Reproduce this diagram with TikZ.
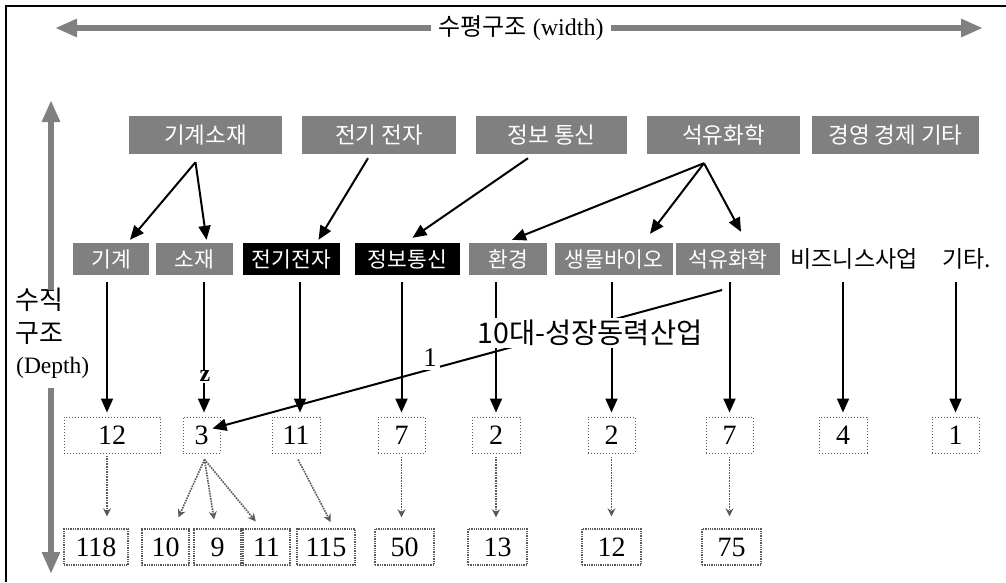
\documentclass[tikz,border=0pt]{standalone}
\usepackage{fontspec}
\setmainfont{Liberation Serif}
\newfontfamily\krfont{Noto Sans CJK KR}
\usetikzlibrary{arrows.meta}
\definecolor{hatch}{gray}{0.5}
\definecolor{dotgray}{gray}{0.35}
\tikzset{
 topbox/.style={fill=hatch, text=white, minimum height=38pt, inner sep=0pt, font=\krfont\fontsize{22.5}{22.5}\selectfont},
 midbox/.style={fill=hatch, text=white, minimum height=32pt, inner sep=0pt, font=\krfont\fontsize{21.5}{21.5}\selectfont},
 blackbox/.style={midbox, fill=black},
 plainlbl/.style={minimum height=32pt, inner sep=0pt, font=\krfont\fontsize{23}{23}\selectfont},
 numbox/.style={draw=dotgray, dotted, line width=1pt, minimum height=36pt, inner sep=0pt, font=\fontsize{28}{28}\selectfont},
 leafbox/.style={draw=dotgray, densely dotted, line width=1.3pt, minimum height=36pt, inner sep=0pt, font=\fontsize{28}{28}\selectfont},
 blk/.style={line width=2pt, -{Triangle[length=14pt,width=12pt]}},
 garrow/.style={line width=6pt, draw=hatch, -{Triangle[length=22pt,width=17pt]}},
 darr/.style={draw=dotgray, densely dotted, line width=1.6pt, -{Stealth[length=8pt,width=8pt,open]}},
}
\begin{document}
\begin{tikzpicture}[x=1pt,y=-1pt]
\useasboundingbox (0,0) rectangle (1006,582);
\draw[line width=1.5pt] (6,582) -- (6,6) -- (1006,6);

% horizontal axis
\node[inner sep=7pt, font=\fontsize{24}{24}\selectfont] (ht) at (521,28) {{\krfont 수평구조}~(width)};
\coordinate (hl) at (55,28);
\coordinate (hr) at (983,28);
\draw[garrow] (ht) -- (hl);
\draw[garrow] (ht) -- (hr);

% vertical axis
\node[anchor=north west, inner sep=0pt, font=\krfont\fontsize{26}{26}\selectfont] (v1) at (15,288) {수직};
\node[anchor=north west, inner sep=0pt, font=\krfont\fontsize{26}{26}\selectfont] (v2) at (15,322) {구조};
\node[anchor=north west, inner sep=0pt, font=\fontsize{23.5}{23.5}\selectfont] (v3) at (16,357) {(Depth)};
\coordinate (vt) at (51,100);
\coordinate (vg1) at (51,290);
\coordinate (vg2) at (51,388);
\coordinate (vb) at (51,574);
\draw[garrow] (vg1) -- (vt);
\draw[garrow] (vg2) -- (vb);

% top row
\node[topbox, minimum width=153pt] (t1) at (205.5,135) {기계소재};
\node[topbox, minimum width=154pt] (t2) at (379,135) {전기 전자};
\node[topbox, minimum width=151pt] (t3) at (551.5,135) {정보 통신};
\node[topbox, minimum width=153pt] (t4) at (723.5,135) {석유화학};
\node[topbox, minimum width=167pt] (t5) at (895.5,135) {경영 경제 기타};

% middle row
\node[midbox, minimum width=76pt] (m1) at (111,259) {기계};
\node[midbox, minimum width=77pt] (m2) at (194.5,259) {소재};
\node[blackbox, minimum width=97pt] (m3) at (291.5,259) {전기전자};
\node[blackbox, minimum width=105pt] (m4) at (407.5,259) {정보통신};
\node[midbox, minimum width=78pt] (m5) at (508,259) {환경};
\node[midbox, minimum width=118pt] (m6) at (614,259) {생물바이오};
\node[midbox, minimum width=104pt] (m7) at (728,259) {석유화학};
\node[plainlbl] (m8) at (854,259) {비즈니스사업};
\node[plainlbl] (m9) at (967,259) {기타.};

% top -> middle arrows
\draw[blk] ([xshift=-10pt,yshift=-8pt]t1.south) -- ([xshift=19pt,yshift=3pt]m1.north);
\draw[blk] ([xshift=-10pt,yshift=-8pt]t1.south) -- ([xshift=12pt,yshift=3pt]m2.north);
\draw[blk] ([xshift=-11pt,yshift=-4pt]t2.south) -- ([xshift=27pt,yshift=3pt]m3.north);
\draw[blk] ([xshift=-23.5pt,yshift=-4pt]t3.south) -- ([xshift=5pt,yshift=5pt]m4.north);
\draw[blk] ([xshift=-19.5pt,yshift=-9pt]t4.south) -- ([xshift=4pt,yshift=3pt]m5.north);
\draw[blk] ([xshift=-19.5pt,yshift=-9pt]t4.south) -- ([xshift=36pt,yshift=9pt]m6.north);
\draw[blk] ([xshift=-19.5pt,yshift=-9pt]t4.south) -- ([xshift=13pt,yshift=11pt]m7.north);

% number boxes
\node[numbox, minimum width=96pt] (n1) at (112,435) {12};
\node[numbox, minimum width=37pt] (n2) at (201.5,435) {3};
\node[numbox, minimum width=48pt] (n3) at (296,435) {11};
\node[numbox, minimum width=47pt] (n4) at (401.5,435) {7};
\node[numbox, minimum width=48pt] (n5) at (496,435) {2};
\node[numbox, minimum width=47pt] (n6) at (611.5,435) {2};
\node[numbox, minimum width=47pt] (n7) at (729.5,435) {7};
\node[numbox, minimum width=48pt] (n8) at (843,435) {4};
\node[numbox, minimum width=47pt] (n9) at (955.5,435) {1};

\coordinate (a1) at ([xshift=-5pt]n1.north);
\coordinate (a2) at ([xshift=2.5pt]n2.north);
\coordinate (a3) at ([xshift=4pt]n3.north);
\draw[blk, shorten <=7pt, shorten >=4pt] (m1.south -| a1) -- (a1);
\draw[blk, shorten <=7pt, shorten >=4pt] (m2.south -| a2) -- (a2);
\draw[blk, shorten <=7pt, shorten >=4pt] (m3.south -| a3) -- (a3);
\draw[blk, shorten <=7pt, shorten >=4pt] (m4.south -| n4.north) -- (n4.north);
\draw[blk, shorten <=7pt, shorten >=4pt] (m5.south -| n5.north) -- (n5.north);
\draw[blk, shorten <=7pt, shorten >=4pt] (m6.south -| n6.north) -- (n6.north);
\draw[blk, shorten <=7pt, shorten >=4pt] (m7.south -| n7.north) -- (n7.north);
\draw[blk, shorten <=7pt, shorten >=4pt] (m8.south -| n8.north) -- (n8.north);
\draw[blk, shorten <=7pt, shorten >=4pt] (m9.south -| n9.north) -- (n9.north);

% annotation
\coordinate (ann) at (722,290);
\draw[blk] (ann) -- ([xshift=11pt,yshift=-12pt]n2.north);
\node[fill=white, inner sep=2pt, font=\krfont\fontsize{28.5}{28.5}\selectfont] (lbl) at (590,333) {10대-성장동력산업};
\node[fill=white, inner sep=3pt, font=\fontsize{27}{27}\selectfont] (one) at (430,358) {1};
\node[fill=white, inner sep=1pt, font=\bfseries\fontsize{24}{24}\selectfont] (zl) at (205,376) {z};

% leaf boxes
\node[leafbox, minimum width=64pt] (b1) at (96,547) {118};
\node[leafbox, minimum width=47pt] (b2) at (165.5,547) {10};
\node[leafbox, minimum width=47pt] (b3) at (217.5,547) {9};
\node[leafbox, minimum width=47pt] (b4) at (266.5,547) {11};
\node[leafbox, minimum width=58pt] (b5) at (326,547) {115};
\node[leafbox, minimum width=59pt] (b6) at (404.5,547) {50};
\node[leafbox, minimum width=59pt] (b7) at (497.5,547) {13};
\node[leafbox, minimum width=59pt] (b8) at (611.5,547) {12};
\node[leafbox, minimum width=59pt] (b9) at (731.5,547) {75};

% dotted arrows
\draw[darr, shorten <=2pt, shorten >=12pt] (n1.south -| a1) -- (b1.north -| a1);
\draw[darr, shorten >=12pt] ([xshift=3pt,yshift=-6pt]n2.south) -- ([xshift=8pt]b2.north);
\draw[darr, shorten >=9pt] ([xshift=3pt,yshift=-6pt]n2.south) -- ([xshift=-2pt]b3.north);
\draw[darr, shorten >=9pt] ([xshift=3pt,yshift=-6pt]n2.south) -- ([xshift=-5pt]b4.north);
\draw[darr, shorten >=7pt] ([xshift=2pt,yshift=-6pt]n3.south) -- ([xshift=8pt]b5.north);
\draw[darr, shorten <=3pt, shorten >=11pt] (n4.south) -- (n4.south |- b6.north);
\draw[darr, shorten <=3pt, shorten >=11pt] (n5.south) -- (n5.south |- b7.north);
\draw[darr, shorten <=3pt, shorten >=12pt] (n6.south) -- (n6.south |- b8.north);
\draw[darr, shorten <=3pt, shorten >=12pt] (n7.south) -- (n7.south |- b9.north);
\end{tikzpicture}
\end{document}
